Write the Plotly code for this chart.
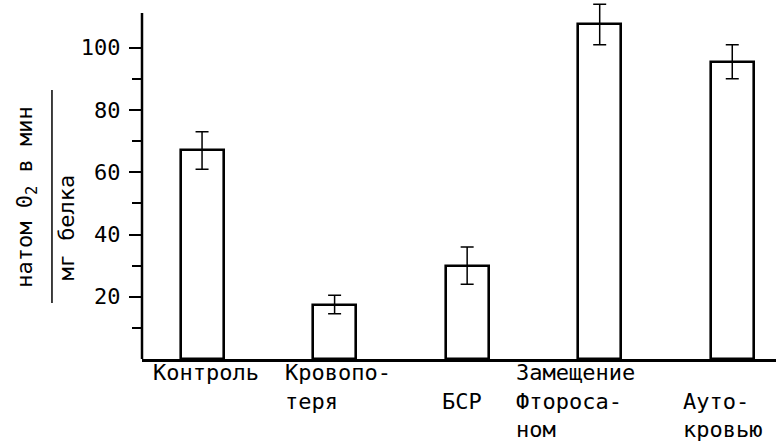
import plotly.graph_objects as go

# Groups and measured respiration rate (натом O2 / мин / мг белка), mean ± error
groups = ["Контроль", "Кровопотеря", "БСР", "Замещение фторосаном", "Аутокровью"]
rate = [67, 17.5, 30, 107.5, 95.5]
rate_err = [6, 3, 6, 6.5, 5.5]

# Category captions as printed under each bar, one list entry per printed line
group_label_lines = [
    ["Контроль"],
    ["Кровопо-", "теря"],
    ["БСР"],
    ["Замещение", "Фтороса-", "ном"],
    ["Ауто-", "кровью"],
]
label_first_row = [0, 0, 1, 0, 1]
label_xshift = [-51, -52, -27, -86, -51]

y_ticks = [20, 40, 60, 80, 100]
y_minor = [10, 30, 50, 70, 90]
y_axis_top = 111.2

FONT = "DejaVu Sans Mono"
ROW_STEP = 28.5

fig = go.Figure()
fig.add_trace(
    go.Bar(
        x=groups,
        y=rate,
        width=0.325,
        marker=dict(color="white", line=dict(color="black", width=2.6)),
        error_y=dict(type="data", array=rate_err, color="black", thickness=1.5, width=6.5),
        showlegend=False,
    )
)

annotations = []
for g, lines, row0, dx in zip(groups, group_label_lines, label_first_row, label_xshift):
    for i, line in enumerate(lines):
        annotations.append(
            dict(
                x=g, xref="x", y=0, yref="paper",
                text=line, showarrow=False,
                xanchor="left", yanchor="top", align="left",
                xshift=dx, yshift=1 - (row0 + i) * ROW_STEP,
                font=dict(family=FONT, size=22, color="black"),
            )
        )

# Y-axis title written as a fraction: numerator, bar, denominator
annotations.append(
    dict(
        x=0, xref="paper", y=0.449, yref="paper",
        text="натом 0<sub>2</sub> в мин", textangle=-90, showarrow=False,
        xanchor="center", yanchor="middle", xshift=-115,
        font=dict(family=FONT, size=22, color="black"),
    )
)
annotations.append(
    dict(
        x=0, xref="paper", y=0.366, yref="paper",
        text="мг белка", textangle=-90, showarrow=False,
        xanchor="center", yanchor="middle", xshift=-75,
        font=dict(family=FONT, size=22, color="black"),
    )
)

shapes = [
    # fraction bar of the y title
    dict(type="line", xref="paper", yref="paper", x0=-0.142, x1=-0.142, y0=0.156, y1=0.749,
         line=dict(color="black", width=1.5)),
    # vertical value axis, stopping a little above the last tick
    dict(type="line", xref="paper", yref="y", x0=0, x1=0, y0=0, y1=y_axis_top,
         line=dict(color="black", width=2.5)),
]

fig.update_layout(
    width=776,
    height=443,
    margin=dict(l=142, r=0, t=0, b=84),
    paper_bgcolor="white",
    plot_bgcolor="white",
    annotations=annotations,
    shapes=shapes,
    bargap=0,
    xaxis=dict(
        type="category",
        range=[-0.453, 4.33],
        showline=True, linecolor="black", linewidth=2.5,
        showticklabels=False, ticks="", showgrid=False, zeroline=False,
    ),
    yaxis=dict(
        range=[0, 115.34],
        tickmode="array", tickvals=y_ticks,
        ticks="outside", ticklen=12, tickwidth=2.2, tickcolor="black",
        ticklabelstandoff=4,
        tickfont=dict(family=FONT, size=22, color="black"),
        minor=dict(tickmode="array", tickvals=y_minor, ticks="outside", ticklen=9,
                   tickwidth=2.2, tickcolor="black", showgrid=False),
        showline=False, showgrid=False, zeroline=False,
    ),
)

fig.write_html("out.html")
